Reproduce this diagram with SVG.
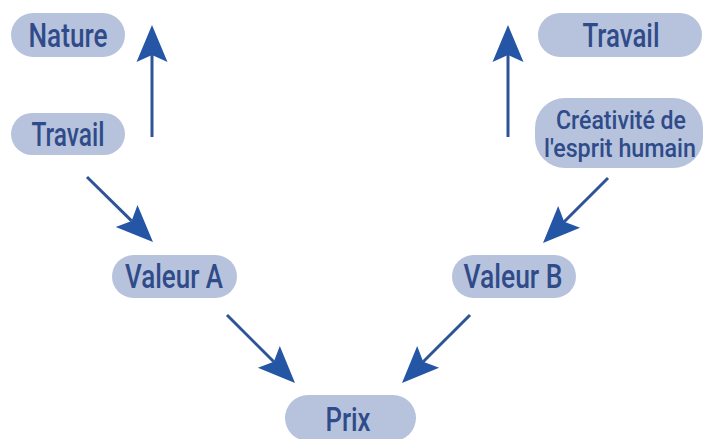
<svg xmlns="http://www.w3.org/2000/svg" width="708" height="439" viewBox="0 0 708 439">
  <style>
    .pill { fill: #b7c3dc; }
    .lbl { font-family: Roboto, "Liberation Sans", Arial, sans-serif; font-weight: 500; font-size: 33px; fill: #2f4b8a; text-anchor: middle; }
    .lbl2 { font-size: 25px; }
    .conn { stroke: #2f5496; stroke-width: 3; fill: none; marker-end: url(#ah); }
  </style>
  <defs>
    <marker id="ah" markerUnits="userSpaceOnUse" viewBox="-8 -16 39 32" markerWidth="39" markerHeight="32" refX="0" refY="0" orient="auto">
      <path d="M30,0 L-7,-15.5 L0,0 L-7,15.5 Z" fill="#2556a6"/>
    </marker>
  </defs>
  <rect width="708" height="439" fill="#ffffff"/>

  <g id="connectors">
    <line class="conn" x1="152" y1="137" x2="152" y2="55"/>
    <line class="conn" x1="508" y1="137" x2="508" y2="55"/>
    <line class="conn" x1="87" y1="177" x2="131.6" y2="220.9"/>
    <line class="conn" x1="608" y1="178" x2="564.2" y2="221.8"/>
    <line class="conn" x1="227" y1="315" x2="273.8" y2="361.8"/>
    <line class="conn" x1="470" y1="315" x2="423.2" y2="361.8"/>
  </g>

  <g id="nature">
    <rect class="pill" x="11" y="13" width="114" height="44" rx="22"/>
    <text class="lbl" x="68" y="47" textLength="79" lengthAdjust="spacingAndGlyphs">Nature</text>
  </g>
  <g id="travail-left">
    <rect class="pill" x="11" y="113" width="114" height="42" rx="21"/>
    <text class="lbl" x="68" y="146" textLength="73" lengthAdjust="spacingAndGlyphs">Travail</text>
  </g>
  <g id="travail-right">
    <rect class="pill" x="538" y="13" width="164" height="44" rx="22"/>
    <text class="lbl" x="621" y="47" textLength="77" lengthAdjust="spacingAndGlyphs">Travail</text>
  </g>
  <g id="creativite">
    <rect class="pill" x="535" y="98" width="168" height="70" rx="30"/>
    <text class="lbl lbl2" x="621" y="129" textLength="130" lengthAdjust="spacingAndGlyphs">Créativité de</text>
    <text class="lbl lbl2" x="620" y="157" textLength="152" lengthAdjust="spacingAndGlyphs">l'esprit humain</text>
  </g>
  <g id="valeur-a">
    <rect class="pill" x="112" y="255" width="125" height="43" rx="21.5"/>
    <text class="lbl" x="174" y="288" textLength="98" lengthAdjust="spacingAndGlyphs">Valeur A</text>
  </g>
  <g id="valeur-b">
    <rect class="pill" x="452" y="255" width="124" height="43" rx="21.5"/>
    <text class="lbl" x="513" y="288" textLength="99" lengthAdjust="spacingAndGlyphs">Valeur B</text>
  </g>
  <g id="prix">
    <rect class="pill" x="285" y="395" width="131" height="46" rx="23"/>
    <text class="lbl" x="348" y="431" textLength="45" lengthAdjust="spacingAndGlyphs">Prix</text>
  </g>
</svg>
